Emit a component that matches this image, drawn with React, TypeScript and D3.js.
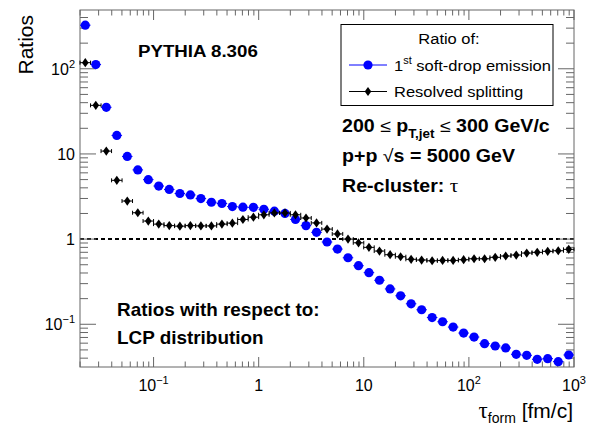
import React from "react";
import * as d3 from "d3";

// bin centres of tau_form [fm/c]
const tauCenters = [
  0.0224, 0.0282, 0.0355, 0.0447, 0.0562, 0.0708, 0.0891, 0.112, 0.141, 0.178,
  0.224, 0.282, 0.355, 0.447, 0.562, 0.708, 0.891, 1.12, 1.41, 1.78,
  2.24, 2.82, 3.55, 4.47, 5.62, 7.08, 8.91, 11.2, 14.1, 17.8,
  22.4, 28.2, 35.5, 44.7, 56.2, 70.8, 89.1, 112, 141, 178,
  224, 282, 355, 447, 562, 708, 891,
];

// 1st soft-drop emission ratio
const softDropRatio = [
  325, 112, 35.3, 16.5, 9.35, 6.5, 4.99, 4.2, 3.83, 3.43,
  3.3, 2.99, 2.71, 2.62, 2.41, 2.37, 2.36, 2.24, 2.13, 2.0,
  1.7, 1.44, 1.2, 0.925, 0.764, 0.604, 0.487, 0.404, 0.329, 0.26,
  0.216, 0.174, 0.148, 0.12, 0.107, 0.0927, 0.0789, 0.0708, 0.0592, 0.0556,
  0.0527, 0.0444, 0.0432, 0.0388, 0.0395, 0.0364, 0.0436,
];

// Resolved splitting ratio
const resolvedRatio = [
  118, 37.2, 10.8, 4.9, 2.8, 2.04, 1.63, 1.5, 1.44, 1.42,
  1.44, 1.43, 1.43, 1.5, 1.54, 1.7, 1.81, 1.93, 2.03, 2.03,
  1.93, 1.77, 1.55, 1.31, 1.15, 1.0, 0.905, 0.8, 0.724, 0.656,
  0.621, 0.579, 0.568, 0.557, 0.562, 0.562, 0.573, 0.588, 0.588, 0.611,
  0.633, 0.65, 0.686, 0.699, 0.718, 0.73, 0.758,
];

const xTickValues = [0.1, 1, 10, 100, 1000];
const xTickBase = ["10", "1", "10", "10", "10"];
const xTickExp = ["\u22121", "", "", "2", "3"];
const yTickValues = [0.1, 1, 10, 100];
const yTickBase = ["10", "1", "10", "10"];
const yTickExp = ["\u22121", "", "", "2"];

const W = 594;
const H = 428;
const L = 80, R = 574, T = 10, B = 367;
const FONT = "'Liberation Sans', Arial, Helvetica, sans-serif";
const SERIF = "'Liberation Serif', 'DejaVu Serif', serif";
const BLUE = "#0000ff";
const FRAME = "#666";

export default function App() {
  const x = d3.scaleLog().domain([Math.pow(10, -1.7), 1000]).range([L, R]);
  const y = d3.scaleLog().domain([0.0315, 490]).range([B, T]);
  const halfBin = Math.pow(10, 0.05);

  const isMajor = (v: number) => Math.abs(Math.log10(v) - Math.round(Math.log10(v))) < 1e-6;
  const [x0, x1] = x.domain();
  const [y0, y1] = y.domain();
  const xt = x.ticks().filter((v) => v >= x0 && v <= x1);
  const yt = y.ticks().filter((v) => v >= y0 && v <= y1);

  return (
    <svg width={W} height={H} style={{ position: "absolute", left: 0, top: 0, background: "#fff" }}
      fontFamily={FONT}>
      <rect x={0} y={0} width={W} height={H} fill="#fff" />
      {/* dashed line at 1 */}
      <line x1={L} x2={R} y1={y(1)} y2={y(1)} stroke="#000" strokeWidth={2} strokeDasharray="4 3" />

      {/* frame */}
      <rect x={L} y={T} width={R - L} height={B - T} fill="none" stroke={FRAME} strokeWidth={1} />
      {xt.map((v, i) => {
        const len = isMajor(v) ? 10 : 5.5;
        const px = x(v);
        return (
          <g key={"xt" + i}>
            <line x1={px} x2={px} y1={B} y2={B - len} stroke={FRAME} />
            <line x1={px} x2={px} y1={T} y2={T + len} stroke={FRAME} />
          </g>
        );
      })}
      {yt.map((v, i) => {
        const len = isMajor(v) ? 16 : 8;
        const py = y(v);
        return (
          <g key={"yt" + i}>
            <line x1={L} x2={L + len} y1={py} y2={py} stroke={FRAME} />
            <line x1={R} x2={R - len} y1={py} y2={py} stroke={FRAME} />
          </g>
        );
      })}

      {/* x tick labels */}
      {xTickValues.map((v, i) => (
        <text key={"xl" + i} x={x(v)} y={391} textAnchor="middle" fontSize={16} fill="#000">
          {xTickBase[i]}
          {xTickExp[i] && <tspan dy={-7} fontSize={11}>{xTickExp[i]}</tspan>}
        </text>
      ))}
      {/* y tick labels */}
      {yTickValues.map((v, i) => (
        <text key={"yl" + i} x={75} y={y(v) + 6} textAnchor="end" fontSize={16} fill="#000">
          {yTickBase[i]}
          {yTickExp[i] && <tspan dy={-7} fontSize={11}>{yTickExp[i]}</tspan>}
        </text>
      ))}

      {/* axis titles */}
      <text transform={`translate(33,15) rotate(-90)`} textAnchor="end" fontSize={21} fill="#000">Ratios</text>
      <text x={573} y={418} textAnchor="end" fontSize={21} fill="#000">
        <tspan fontFamily={SERIF} fontSize={23}>{"\u03c4"}</tspan>
        <tspan dy={5} fontSize={14}>form</tspan>
        <tspan dy={-5}>{" [fm/c]"}</tspan>
      </text>

      {/* soft-drop series */}
      {tauCenters.map((c, i) => {
        const px = x(c), py = y(softDropRatio[i]);
        return (
          <g key={"b" + i}>
            <line x1={x(c / halfBin)} x2={x(c * halfBin)} y1={py} y2={py} stroke={BLUE} strokeWidth={1} />
            <circle cx={px} cy={py} r={4.6} fill={BLUE} />
          </g>
        );
      })}
      {/* resolved series */}
      {tauCenters.map((c, i) => {
        const px = x(c), py = y(resolvedRatio[i]);
        const xa = x(c / halfBin), xb = x(c * halfBin);
        return (
          <g key={"k" + i}>
            <line x1={xa} x2={xb} y1={py} y2={py} stroke="#000" strokeWidth={1} />
            <line x1={xa} x2={xa} y1={py - 2} y2={py + 2} stroke="#000" strokeWidth={1} />
            <line x1={xb} x2={xb} y1={py - 2} y2={py + 2} stroke="#000" strokeWidth={1} />
            <polygon points={`${px},${py - 4.6} ${px + 3.3},${py} ${px},${py + 4.6} ${px - 3.3},${py}`} fill="#000" />
          </g>
        );
      })}

      {/* PYTHIA label */}
      <g transform="translate(138,57) scale(1.1,1)">
        <text x={0} y={0} fontSize={17} fontWeight="bold" fill="#000">PYTHIA 8.306</text>
      </g>

      {/* legend */}
      <rect x={341} y={24.5} width={212} height={81} fill="#fff" stroke="#000" strokeWidth={1} />
      <g transform="translate(449,44) scale(1.1,1)">
        <text x={0} y={0} textAnchor="middle" fontSize={15} fill="#000">Ratio of:</text>
      </g>
      <line x1={349} x2={387} y1={65} y2={65} stroke={BLUE} strokeWidth={1} />
      <circle cx={368} cy={65} r={4.6} fill={BLUE} />
      <g transform="translate(394,70.5) scale(1.1,1)">
        <text x={0} y={0} fontSize={15} fill="#000">
          1<tspan dy={-7} fontSize={10}>st</tspan>
          <tspan dy={7}>{" soft-drop emission"}</tspan>
        </text>
      </g>
      <line x1={349} x2={387} y1={91.5} y2={91.5} stroke="#000" strokeWidth={1} />
      <polygon points={`368,87 371.3,91.5 368,96 364.7,91.5`} fill="#000" />
      <g transform="translate(394,97) scale(1.1,1)">
        <text x={0} y={0} fontSize={15} fill="#000">Resolved splitting</text>
      </g>

      {/* info text */}
      <g transform="translate(342,131.5) scale(1.12,1)">
        <text x={0} y={0} fontSize={17.5} fontWeight="bold" fill="#000">
          {"200 "}
          <tspan fontWeight="normal">{"\u2264"}</tspan>
          {" p"}
          <tspan dy={6} fontSize={12}>T,jet</tspan>
          <tspan dy={-6}>{" "}</tspan>
          <tspan fontWeight="normal">{"\u2264"}</tspan>
          {" 300 GeV/c"}
        </text>
      </g>
      <g transform="translate(342,161.5) scale(1.12,1)">
        <text x={0} y={0} fontSize={17.5} fontWeight="bold" fill="#000">
          {"p+p  "}
          <tspan fontWeight="normal">{"\u221a"}</tspan>
          {"s = 5000 GeV"}
        </text>
      </g>
      <g transform="translate(342,191.5) scale(1.12,1)">
        <text x={0} y={0} fontSize={17.5} fontWeight="bold" fill="#000">
          {"Re-cluster: "}
          <tspan fontFamily={SERIF} fontWeight="normal" fontSize={19}>{"\u03c4"}</tspan>
        </text>
      </g>

      {/* bottom-left text */}
      <g transform="translate(117,316) scale(1.08,1)">
        <text x={0} y={0} fontSize={17.5} fontWeight="bold" fill="#000">Ratios with respect to:</text>
      </g>
      <g transform="translate(117,344) scale(1.08,1)">
        <text x={0} y={0} fontSize={17.5} fontWeight="bold" fill="#000">LCP distribution</text>
      </g>
    </svg>
  );
}
